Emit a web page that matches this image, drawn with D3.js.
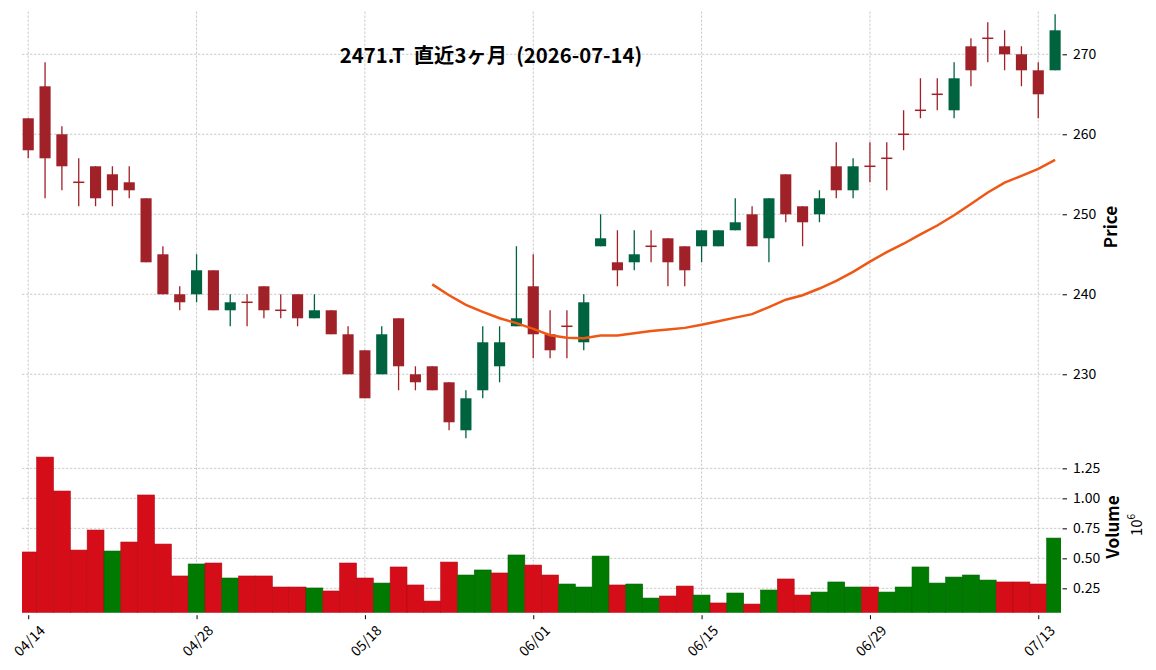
<!DOCTYPE html>
<html>
<head>
<meta charset="utf-8">
<script src="https://cdn.jsdelivr.net/npm/d3@7"></script>
<style>
  body { margin: 0; background: #fff; }
  svg { display: block; font-family: "Noto Sans CJK JP", "Noto Sans", sans-serif; }
</style>
</head>
<body>
<svg id="chart" width="1156" height="670"></svg>
<script>
// trading days (2026), 04/14 .. 07/14
const dates = [
  "04/14","04/15","04/16","04/17","04/20","04/21","04/22","04/23","04/24","04/27",
  "04/28","04/30","05/01","05/07","05/08","05/11","05/12","05/13","05/14","05/15",
  "05/18","05/19","05/20","05/21","05/22","05/25","05/26","05/27","05/28","05/29",
  "06/01","06/02","06/03","06/04","06/05","06/08","06/09","06/10","06/11","06/12",
  "06/15","06/16","06/17","06/18","06/19","06/22","06/23","06/24","06/25","06/26",
  "06/29","06/30","07/01","07/02","07/03","07/06","07/07","07/08","07/09","07/10",
  "07/13","07/14"
];
const opens = [262,266,260,254,256,255,254,252,245,240, 240,243,238,239,241,238,240,237,238,235,
  233,230,237,230,231,229,223,228,231,236, 241,235,236,234,246,244,244,246,247,246,
  246,246,248,250,247,255,251,250,256,253, 256,257,260,263,265,263,271,272,271,270, 268,268];
const highs = [262,269,261,257,256,256,256,252,246,241, 245,243,240,240,241,240,240,240,238,236,
  233,236,237,231,231,229,228,236,236,246, 245,238,238,240,250,248,248,248,247,246,
  248,248,252,251,252,255,251,253,259,257, 259,259,263,267,267,269,272,274,273,271, 269,275];
const lows = [257,252,253,251,251,251,252,244,240,238, 239,238,236,236,237,237,236,237,235,230,
  227,230,228,228,228,223,222,227,229,236, 232,232,232,233,246,241,243,244,241,241,
  244,246,248,246,244,249,246,249,252,252, 254,253,258,262,263,262,266,269,268,266, 262,268];
const closes = [258,257,256,254,252,253,253,244,240,239, 243,238,239,239,238,238,237,238,235,230,
  227,235,231,229,228,224,227,234,234,237, 235,233,236,239,247,243,245,246,244,243,
  248,248,249,246,252,250,249,252,253,256, 256,257,260,263,265,267,268,272,270,268, 265,273];
const volumes = [553000,1344000,1061000,569000,736000,561000,636000,1028000,619000,353000,
  453000,461000,336000,353000,353000,261000,261000,253000,228000,461000,
  336000,294000,428000,278000,144000,469000,361000,403000,378000,528000,
  444000,361000,286000,261000,519000,278000,286000,169000,186000,269000,
  194000,128000,211000,119000,236000,328000,194000,219000,303000,261000,
  261000,219000,261000,428000,294000,344000,361000,319000,303000,303000,
  286000,669000];
// 25-day moving average, first value at index 24
const maStart = 24;
const ma25 = [241.24,239.88,238.68,237.80,237.00,236.40,235.68,234.88,234.56,234.52,
  234.84,234.84,235.12,235.40,235.60,235.80,236.20,236.64,237.08,237.52,
  238.40,239.32,239.88,240.72,241.68,242.80,244.08,245.28,246.32,247.48,
  248.60,249.88,251.28,252.72,253.96,254.80,255.68,256.80];
const priceTicks = [230, 240, 250, 260, 270];
const volumeTicks = [250000, 500000, 750000, 1000000, 1250000];
const title = "2471.T  直近3ヶ月  (2026-07-14)";

const left = 22, right = 1061;
const priceTop = 11.5, priceBottom = 441, volBottom = 612.7;
const upColor = "#006340", downColor = "#a02128";
const volUp = "#007a00", volDown = "#d50d18";

const svg = d3.select("#chart");

const x = d3.scaleLinear().domain([-0.37, dates.length - 0.65]).range([left, right]);
const y = d3.scaleLinear().domain([221.66, 275.35]).range([priceBottom, priceTop]);
const yv = d3.scaleLinear().domain([47000, 1478000]).range([volBottom, priceBottom]);
const step = x(1) - x(0);
const bodyW = step * 0.66;

const defs = svg.append("defs");
defs.append("clipPath").attr("id", "clipP")
  .append("rect").attr("x", left).attr("y", priceTop).attr("width", right - left).attr("height", priceBottom - priceTop);
defs.append("clipPath").attr("id", "clipV")
  .append("rect").attr("x", left).attr("y", priceBottom).attr("width", right - left).attr("height", volBottom - priceBottom);

const tickIdx = d3.range(0, dates.length, 10);

// grid
const grid = svg.append("g")
  .attr("stroke", "#bdbdbd").attr("stroke-width", 0.8).attr("stroke-dasharray", "2.4,1.6");
grid.selectAll(".gx").data(tickIdx).join("line")
  .attr("x1", d => x(d)).attr("x2", d => x(d)).attr("y1", priceTop).attr("y2", volBottom);
grid.selectAll(".gp").data(priceTicks).join("line")
  .attr("x1", left).attr("x2", right).attr("y1", d => y(d)).attr("y2", d => y(d));
grid.selectAll(".gv").data(volumeTicks).join("line")
  .attr("x1", left).attr("x2", right).attr("y1", d => yv(d)).attr("y2", d => yv(d));

const candles = dates.map((d, i) => ({ i, o: opens[i], h: highs[i], l: lows[i], c: closes[i] }));
const col = d => d.c > d.o ? upColor : downColor;

// volume, coloured by close vs previous close
const vColor = i => (i === 0 ? closes[0] > opens[0] : closes[i] > closes[i - 1]) ? volUp : volDown;
svg.append("g").attr("clip-path", "url(#clipV)")
  .selectAll("rect").data(volumes).join("rect")
    .attr("x", (d, i) => x(i) - step / 2)
    .attr("y", d => yv(d))
    .attr("width", step)
    .attr("height", d => volBottom - yv(d))
    .attr("fill", (d, i) => vColor(i))
    .attr("stroke", (d, i) => d3.color(vColor(i)).darker(0.5))
    .attr("stroke-width", 0.6);

// candles
const cg = svg.append("g").attr("clip-path", "url(#clipP)");
cg.selectAll("line").data(candles).join("line")
  .attr("x1", d => x(d.i)).attr("x2", d => x(d.i))
  .attr("y1", d => y(d.h)).attr("y2", d => y(d.l))
  .attr("stroke", col).attr("stroke-width", 1.3);
cg.selectAll("rect").data(candles).join("rect")
  .attr("x", d => x(d.i) - bodyW / 2)
  .attr("width", bodyW)
  .attr("y", d => d.o === d.c ? y(d.o) - 0.75 : y(Math.max(d.o, d.c)))
  .attr("height", d => d.o === d.c ? 1.5 : Math.abs(y(d.o) - y(d.c)))
  .attr("fill", col);

// moving average
svg.append("path")
  .datum(ma25)
  .attr("fill", "none")
  .attr("stroke", "#ef5714")
  .attr("stroke-width", 2.5)
  .attr("d", d3.line().x((d, k) => x(maStart + k)).y(d => y(d)));

// axes
function styleAxis(g) {
  g.select(".domain").remove();
  g.selectAll("text").attr("font-family", "'Noto Sans CJK JP', sans-serif").attr("font-size", 14).attr("fill", "#000");
  g.selectAll(".tick line").attr("stroke", "#000").attr("stroke-width", 1);
}
svg.append("g").attr("transform", `translate(${right + 1.5},0)`)
  .call(d3.axisRight(y).tickValues(priceTicks).tickSize(4.5).tickPadding(6))
  .call(styleAxis);
svg.append("g").attr("transform", `translate(${right + 1.5},0)`)
  .call(d3.axisRight(yv).tickValues(volumeTicks).tickSize(4.5).tickPadding(6).tickFormat(d => d3.format(".2f")(d / 1e6)))
  .call(styleAxis);
const xa = svg.append("g").attr("transform", `translate(0,${volBottom + 2.5})`)
  .call(d3.axisBottom(x).tickValues(tickIdx).tickSize(4).tickFormat(i => dates[i]))
  .call(styleAxis);
xa.selectAll("text")
  .attr("font-size", 14)
  .attr("y", null).attr("dy", null)
  .attr("text-anchor", "middle")
  .attr("dominant-baseline", "central")
  .attr("transform", "translate(0,25) rotate(-45)");

// labels
svg.append("text")
  .attr("transform", "translate(1117,227) rotate(-90)")
  .attr("text-anchor", "middle").attr("font-size", 17).attr("font-weight", "bold")
  .text("Price");
svg.append("text")
  .attr("transform", "translate(1119,527) rotate(-90)")
  .attr("text-anchor", "middle").attr("font-size", 17).attr("font-weight", "bold")
  .text("Volume");
const off = svg.append("text")
  .attr("transform", "translate(1142,525) rotate(-90)")
  .attr("text-anchor", "middle").attr("font-size", 15);
off.append("tspan").text("10");
off.append("tspan").attr("dy", -7).attr("font-size", 10).text("6");

svg.append("text")
  .attr("x", 491).attr("y", 63)
  .style("white-space", "pre")
  .attr("text-anchor", "middle").attr("font-size", 20.3).attr("font-weight", "bold")
  .text(title);
</script>
</body>
</html>
